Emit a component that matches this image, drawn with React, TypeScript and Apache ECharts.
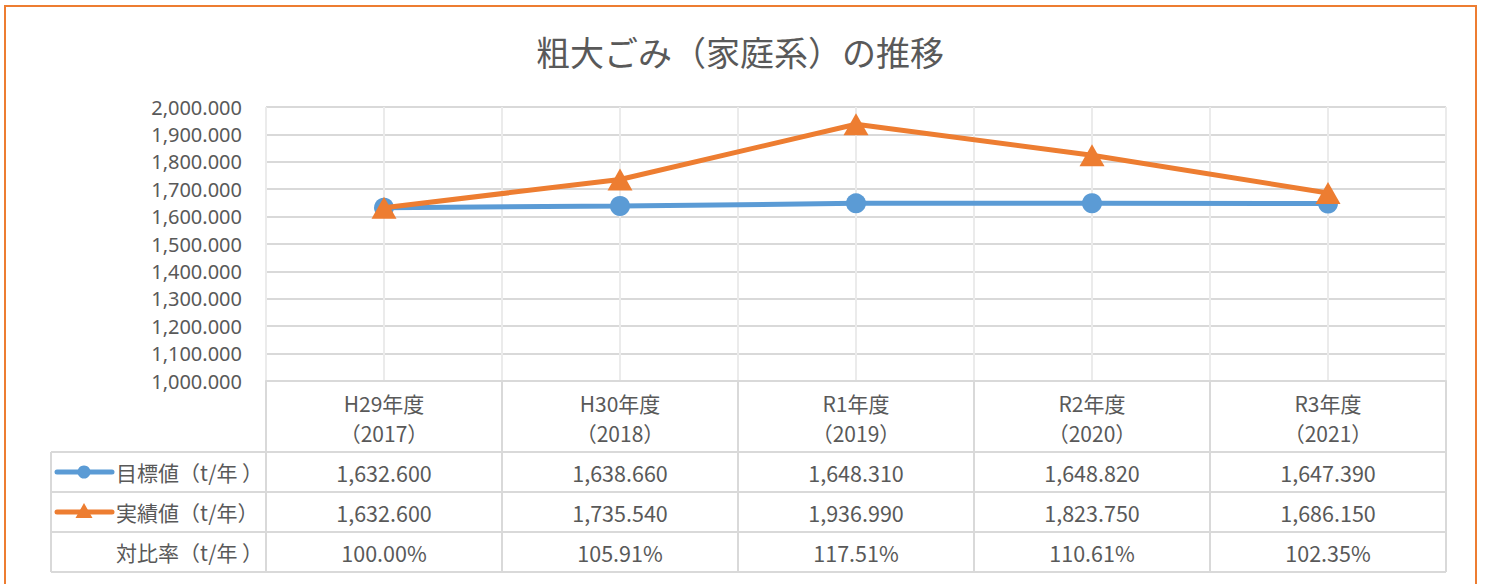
import React, { useEffect, useRef } from "react";
import * as echarts from "echarts";

// ---- data ----
const eras = ["H29年度", "H30年度", "R1年度", "R2年度", "R3年度"];
const years = ["2017", "2018", "2019", "2020", "2021"];
const targetValues = [1632.6, 1638.66, 1648.31, 1648.82, 1647.39];
const actualValues = [1632.6, 1735.54, 1936.99, 1823.75, 1686.15];
const ratioValues = [100.0, 105.91, 117.51, 110.61, 102.35];
const seriesNames = ["目標値（t/年 ）", "実績値（t/年）"];
const ratioLabel = "対比率（t/年 ）";
const titleText = "粗大ごみ（家庭系）の推移";
const yMin = 1000;
const yMax = 2000;
const yStep = 100;

// ---- styles ----
const FONT = '"Noto Sans CJK JP", "Noto Sans", sans-serif';
const NUM_FONT = '"Noto Sans", "Noto Sans CJK JP", sans-serif';
const TEXT = "#595959";
const GRID = "#d9d9d9";
const VGRID = "#ebebeb";
const BLUE = "#5B9BD5";
const ORANGE = "#ED7D31";

const W = 1486;
const H = 584;
const gridLeft = 266;
const gridTop = 107;
const gridW = 1180;
const gridH = 274;
const tableLeft = 51;
const headerBottom = 452;
const rowH = 40;

const fmt3 = (v: number) =>
  v.toLocaleString("en-US", { minimumFractionDigits: 3, maximumFractionDigits: 3 });

export default function App() {
  const ref = useRef<HTMLDivElement>(null);

  useEffect(() => {
    document.body.style.margin = "0";
    if (!ref.current) return;
    const chart = echarts.init(ref.current, undefined, { renderer: "svg", width: W, height: H });
    const cats = eras.map((e, i) => `${e}\n（${years[i]}）`);

    chart.setOption({
      animation: false,
      backgroundColor: "#ffffff",
      grid: { left: gridLeft, top: gridTop, width: gridW, height: gridH, containLabel: false },
      xAxis: [
        {
          type: "category",
          data: cats,
          boundaryGap: true,
          axisLine: { show: true, lineStyle: { color: GRID, width: 2 } },
          axisTick: { show: false },
          splitLine: { show: false },
          axisLabel: {
            show: true,
            interval: 0,
            margin: 7,
            fontFamily: FONT,
            fontSize: 21,
            lineHeight: 30,
            color: TEXT,
          },
        },
        {
          type: "value",
          min: 0,
          max: eras.length * 2,
          interval: 1,
          show: true,
          axisLine: { show: false },
          axisTick: { show: false },
          axisLabel: { show: false },
          splitLine: { show: true, lineStyle: { color: VGRID, width: 2 } },
        },
      ],
      yAxis: {
        type: "value",
        min: yMin,
        max: yMax,
        interval: yStep,
        axisLine: { show: false },
        axisTick: { show: false },
        axisLabel: {
          margin: 24,
          fontFamily: NUM_FONT,
          fontSize: 20,
          color: TEXT,
          formatter: (v: number) => fmt3(v),
        },
        splitLine: { show: true, lineStyle: { color: GRID, width: 2 } },
      },
      series: [
        {
          name: seriesNames[0],
          type: "line",
          xAxisIndex: 0,
          data: targetValues,
          symbol: "circle",
          symbolSize: 20,
          lineStyle: { color: BLUE, width: 5 },
          itemStyle: { color: BLUE },
          z: 3,
        },
        {
          name: seriesNames[1],
          type: "line",
          xAxisIndex: 0,
          data: actualValues,
          symbol: "triangle",
          symbolSize: [25, 22],
          lineStyle: { color: ORANGE, width: 5 },
          itemStyle: { color: ORANGE },
          z: 4,
        },
      ],
    });

    // Build the data table from the axis scale
    const centers = eras.map((_, i) => chart.convertToPixel({ xAxisIndex: 0 }, i) as number);
    const bounds: number[] = [];
    for (let k = 0; k <= eras.length; k++) {
      bounds.push(chart.convertToPixel({ xAxisIndex: 1 }, k * 2) as number);
    }
    const axisBottom = chart.convertToPixel({ yAxisIndex: 0 }, yMin) as number;
    const right = bounds[bounds.length - 1];
    const tableBottom = headerBottom + rowH * 3;

    const els: any[] = [];
    const lineStyle = { stroke: GRID, lineWidth: 2 };
    for (let r = 0; r <= 3; r++) {
      const y = headerBottom + r * rowH;
      els.push({ type: "line", shape: { x1: tableLeft, y1: y, x2: right, y2: y }, style: lineStyle, z: 1 });
    }
    els.push({ type: "line", shape: { x1: tableLeft, y1: headerBottom, x2: tableLeft, y2: tableBottom }, style: lineStyle, z: 1 });
    bounds.forEach((x) => {
      els.push({ type: "line", shape: { x1: x, y1: axisBottom, x2: x, y2: tableBottom }, style: lineStyle, z: 1 });
    });

    const txt = (x: number, y: number, text: string, align: string, size = 21) => ({
      type: "text",
      x,
      y,
      style: { text, fill: TEXT, font: `${size}px ${FONT}`, align, verticalAlign: "middle" },
      z: 2,
    });

    const rowY = [0, 1, 2].map((r) => headerBottom + r * rowH + rowH / 2);

    // legend keys
    els.push({ type: "line", shape: { x1: 57, y1: rowY[0], x2: 112, y2: rowY[0] }, style: { stroke: BLUE, lineWidth: 5, lineCap: "round" }, z: 2 });
    els.push({ type: "circle", shape: { cx: 84, cy: rowY[0], r: 6.5 }, style: { fill: BLUE }, z: 3 });
    els.push({ type: "line", shape: { x1: 57, y1: rowY[1], x2: 112, y2: rowY[1] }, style: { stroke: ORANGE, lineWidth: 5, lineCap: "round" }, z: 2 });
    els.push({
      type: "polygon",
      shape: { points: [[84, rowY[1] - 9], [75.5, rowY[1] + 6], [92.5, rowY[1] + 6]] },
      style: { fill: ORANGE },
      z: 3,
    });

    els.push(txt(116, rowY[0], seriesNames[0], "left"));
    els.push(txt(116, rowY[1], seriesNames[1], "left"));
    els.push(txt(116, rowY[2], ratioLabel, "left"));

    centers.forEach((cx, i) => {
      els.push(txt(cx, rowY[0], fmt3(targetValues[i]), "center", 21.5));
      els.push(txt(cx, rowY[1], fmt3(actualValues[i]), "center", 21.5));
      els.push(txt(cx, rowY[2], ratioValues[i].toFixed(2) + "%", "center", 21.5));
    });

    // title
    els.push({
      type: "text",
      x: 740,
      y: 51,
      style: { text: titleText, fill: TEXT, font: `34px ${FONT}`, align: "center", verticalAlign: "middle" },
      z: 2,
    });

    // outer orange frame
    els.push({
      type: "rect",
      shape: { x: 5, y: 6, width: 1471, height: 640 },
      style: { fill: "none", stroke: ORANGE, lineWidth: 2 },
      z: 5,
    });

    chart.setOption({ graphic: { elements: els } });

    return () => chart.dispose();
  }, []);

  return (
    <div
      ref={ref}
      style={{ position: "absolute", left: 0, top: 0, width: W, height: H }}
    />
  );
}
